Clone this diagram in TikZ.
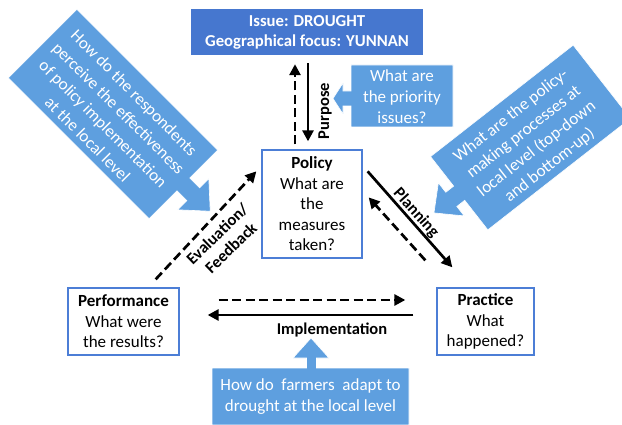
\documentclass[tikz,border=0pt]{standalone}
\usepackage{fontspec}
\setmainfont{Carlito}
\usetikzlibrary{arrows.meta}
\definecolor{issueblue}{HTML}{4677CF}
\definecolor{callblue}{HTML}{5E9FDF}
\definecolor{frameblue}{HTML}{4C7ED6}

\begin{document}
\begin{tikzpicture}[x=1pt,y=-1pt,
  font=\fontsize{17}{20.5}\selectfont,
  stagebox/.style={draw=frameblue, line width=1.3pt, fill=white, align=center, inner sep=0pt},
  callout/.style={fill=callblue, draw=white, line width=0.6pt},
  calltext/.style={text=white, align=center, inner sep=0pt, font=\fontsize{17}{21}\selectfont},
  solidflow/.style={line width=2.7pt, -{Triangle[length=11pt,width=11pt]}},
  dashflow/.style={solidflow, dash pattern=on 9pt off 4.5pt},
  flowlabel/.style={font=\fontsize{16.5}{19.5}\selectfont\bfseries, align=center, inner sep=0pt}]

\useasboundingbox (0,0) rectangle (622,425);

% issue banner
\node[fill=issueblue, text=white, font=\fontsize{16.7}{20}\selectfont\bfseries,
      minimum width=232pt, minimum height=46pt, align=center, inner sep=0pt]
  (issue) at (307,32) {Issue: DROUGHT\\Geographical focus: YUNNAN};

% the three stages
\node[stagebox, minimum width=100pt, minimum height=108pt] (policy) at (312,204)
  {\textbf{Policy}\\What are\\the\\measures\\taken?};
\node[stagebox, minimum width=111pt, minimum height=67pt] (performance) at (123.5,321.5)
  {\textbf{Performance}\\What were\\the results?};
\node[stagebox, minimum width=97pt, minimum height=67pt] (practice) at (485.5,321.5)
  {\textbf{Practice}\\What\\happened?};

% purpose: policy <-> issue
\draw[dashflow, shorten <=5pt, shorten >=9pt]
  ([xshift=-17pt]policy.north) -- ([xshift=-12pt]issue.south);
\draw[solidflow, shorten <=8pt, shorten >=8pt]
  ([xshift=1pt]issue.south) -- ([xshift=-4pt]policy.north);
\node[flowlabel, rotate=90] (purpose) at (325,111) {Purpose};

% evaluation / feedback: performance -> policy
\draw[dashflow] ([shift={(-24,-8)}]performance.north east) -- ([shift={(-5,22)}]policy.north west);
\node[flowlabel, rotate=44] (evaluation) at (224,241) {Evaluation/\\Feedback};

% planning: policy <-> practice
\draw[solidflow] ([shift={(5,22)}]policy.north east) -- ([shift={(16,-20)}]practice.north west);
\draw[dashflow] ([shift={(-11,-27)}]practice.north west) -- ([shift={(6,48)}]policy.north east);
\node[flowlabel, rotate=-48] (planning) at (416,213) {Planning};

% implementation: performance <-> practice
\draw[dashflow] ([shift={(39,-21.5)}]performance.east) -- ([shift={(-31,-21.5)}]practice.west);
\draw[solidflow] ([shift={(-23,-6.5)}]practice.west) -- ([shift={(28,-6.5)}]performance.east);
\node[flowlabel] (implementation) at (332,330) {Implementation};

% callout: priority issues
\path[callout] (351,65) -- (453,65) -- (453,127) -- (351,127) -- (351,106)
  -- (343,106) -- (343,114) -- (333,98.5) -- (343,83) -- (343,91) -- (351,91) -- cycle;
\node[calltext] (priority) at (402,97) {What are\\the priority\\issues?};

% callout: farmers' adaptation
\path[callout] (212,368) -- (306.5,368) -- (306.5,358) -- (293,358) -- (311,338)
  -- (329,358) -- (316.5,358) -- (316.5,368) -- (409,368) -- (409,425) -- (212,425) -- cycle;
\node[calltext] (farmers) at (310.5,397) {How do\ \ farmers\ \ adapt to\\drought at the local level};

% callout: perceived effectiveness
\begin{scope}[shift={(113,114)}, rotate=-45]
  \path[callout] (-99.5,-48.5) -- (99.5,-48.5) -- (99.5,-9) -- (113.5,-9) -- (113.5,-22)
    -- (137.5,0) -- (113.5,22) -- (113.5,9) -- (99.5,9) -- (99.5,48.5) -- (-99.5,48.5) -- cycle;
\end{scope}
\node[calltext, rotate=-45, font=\fontsize{17}{22}\selectfont] (effectiveness) at (111,116)
  {How do the respondents\\perceive the effectiveness\\of policy implementation\\at the local level};

% callout: policy-making processes
\begin{scope}[shift={(530.5,137.5)}, rotate=38]
  \path[callout] (90.5,-46.5) -- (90.5,46.5) -- (-90.5,46.5) -- (-90.5,9) -- (-100.5,9)
    -- (-100.5,21) -- (-122.5,0) -- (-100.5,-21) -- (-100.5,-9) -- (-90.5,-9) -- (-90.5,-46.5) -- cycle;
\end{scope}
\node[calltext, rotate=38] (processes) at (530.4,140.8)
  {What are the policy-\\making processes at\\local level (top-down\\and bottom-up)};

\end{tikzpicture}
\end{document}
